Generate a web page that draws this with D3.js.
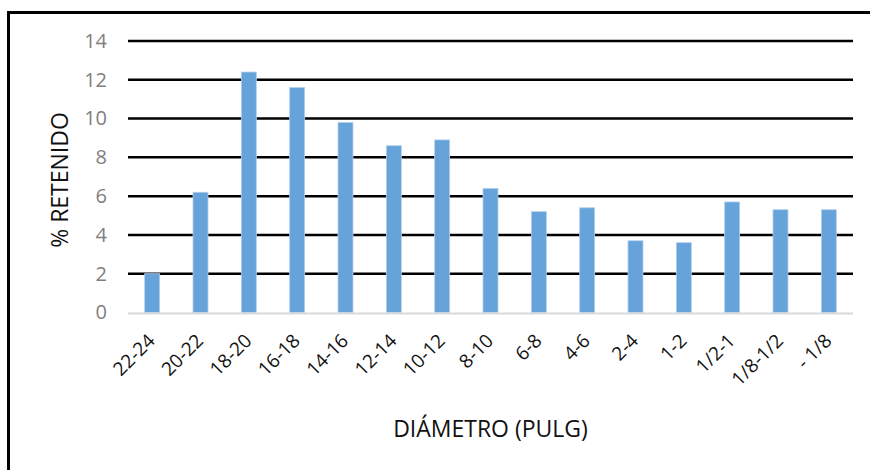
<!DOCTYPE html>
<html>
<head>
<meta charset="utf-8">
<script src="https://cdn.jsdelivr.net/npm/d3@7"></script>
<style>
  body { margin: 0; background: #fff; }
  text { font-family: "Open Sans", "Noto Sans", sans-serif; }
</style>
</head>
<body>
<div id="chart"></div>
<script>
// data
const categories = ["22-24", "20-22", "18-20", "16-18", "14-16", "12-14", "10-12", "8-10",
                    "6-8", "4-6", "2-4", "1-2", "1/2-1", "1/8-1/2", "- 1/8"];
const retenido = [2.0, 6.2, 12.4, 11.6, 9.8, 8.6, 8.9, 6.4, 5.2, 5.4, 3.7, 3.6, 5.7, 5.3, 5.3];
const yTicks = [0, 2, 4, 6, 8, 10, 12, 14];

const W = 870, H = 470;
const margin = {top: 41, right: 17, bottom: 158, left: 128},
    width = W - margin.left - margin.right,
    height = H - margin.top - margin.bottom;

const svg = d3.select("#chart")
  .append("svg")
    .attr("width", W)
    .attr("height", H);

// outer frame (left + top edges only visible)
svg.append("path")
    .attr("d", "M8.5,470 V12.5 H870")
    .attr("fill", "none")
    .attr("stroke", "#000")
    .attr("stroke-width", 3);

const g = svg.append("g")
    .attr("transform", `translate(${margin.left},${margin.top})`);

let x = d3.scaleBand(categories, [0, width])
    .paddingInner(0.69)
    .paddingOuter(0.345);

let y = d3.scaleLinear([0, 14], [height + 0.5, 0]);

// gridlines
g.append("g")
  .selectAll("line")
  .data(yTicks.filter(d => d > 0))
  .join("line")
    .attr("x1", 0)
    .attr("x2", width)
    .attr("y1", d => y(d))
    .attr("y2", d => y(d))
    .attr("stroke", "#000")
    .attr("stroke-width", 2.5);

// y tick labels
const yAxis = g.append("g")
    .call(d3.axisLeft(y).tickValues(yTicks).tickSize(0).tickPadding(21));
yAxis.select(".domain").remove();
yAxis.selectAll("text")
    .style("font-size", "20px")
    .attr("fill", "#7f7f7f");

// bars
g.append("g")
  .selectAll("rect")
  .data(retenido)
  .join("rect")
    .attr("x", (d, i) => x(categories[i]))
    .attr("y", d => y(d))
    .attr("width", x.bandwidth())
    .attr("height", d => y(0) - y(d))
    .attr("fill", "#65a3da")
    .attr("stroke", "#b4d0ee")
    .attr("stroke-width", 0.8);

// baseline
g.append("line")
    .attr("x1", 0)
    .attr("x2", width)
    .attr("y1", y(0) + 1)
    .attr("y2", y(0) + 1)
    .attr("stroke", "#d9d9d9")
    .attr("stroke-width", 2);

// x labels, rotated
const xAxis = g.append("g")
    .attr("transform", `translate(0,${height})`)
    .call(d3.axisBottom(x).tickSize(0).tickPadding(0));
xAxis.select(".domain").remove();
xAxis.selectAll("text")
    .attr("dy", null)
    .attr("y", 0)
    .attr("transform", "translate(4,30) rotate(-45)")
    .style("text-anchor", "end")
    .style("font-size", "19px")
    .attr("fill", "#111");

// axis titles
svg.append("text")
    .attr("text-anchor", "middle")
    .attr("transform", `translate(68,180) rotate(-90)`)
    .style("font-size", "23px")
    .attr("fill", "#111")
    .text("% RETENIDO");

svg.append("text")
    .attr("text-anchor", "middle")
    .attr("x", margin.left + width / 2)
    .attr("y", 437)
    .style("font-size", "23px")
    .attr("fill", "#111")
    .text("DIÁMETRO (PULG)");
</script>
</body>
</html>
